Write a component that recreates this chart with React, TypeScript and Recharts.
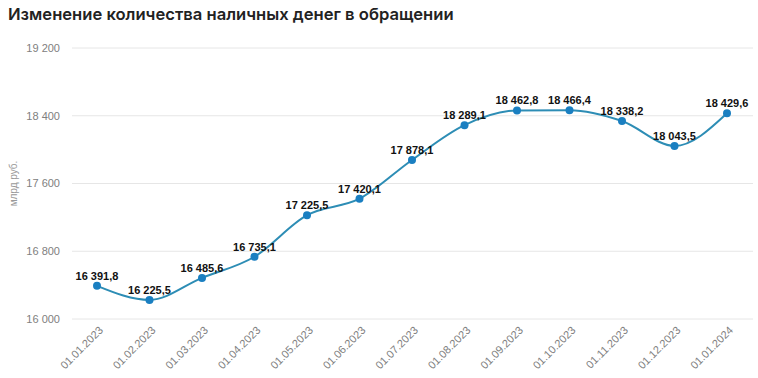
import React from "react";
import { LineChart, Line, XAxis, YAxis, CartesianGrid, LabelList } from "recharts";

const categories = ["01.01.2023","01.02.2023","01.03.2023","01.04.2023","01.05.2023","01.06.2023","01.07.2023","01.08.2023","01.09.2023","01.10.2023","01.11.2023","01.12.2023","01.01.2024"];
const values = [16391.8,16225.5,16485.6,16735.1,17225.5,17420.1,17878.1,18289.1,18462.8,18466.4,18338.2,18043.5,18429.6];
const yTicks = [16000,16800,17600,18400,19200];

const data = categories.map((c, i) => ({ date: c, value: values[i] }));

const fmtInt = (v: number) => String(v).replace(/\B(?=(\d{3})+(?!\d))/g, " ");
const fmtDec = (v: number) => {
  const [i, d] = v.toFixed(1).split(".");
  return fmtInt(Number(i)) + "," + d;
};

const XTick = (props: any) => {
  const { x, y, payload } = props;
  return (
    <g transform={`translate(${x + 4},${y + 1})`}>
      <text x={0} y={0} dy={4} textAnchor="end" transform="rotate(-45)" fill="#808080" fontSize={11} fontFamily="Liberation Sans, Arial, sans-serif">
        {payload.value}
      </text>
    </g>
  );
};

export default function App() {
  return (
    <div style={{ position: "absolute", left: 0, top: 0, width: 758, height: 378, background: "#fff", fontFamily: "Liberation Sans, Arial, sans-serif" }}>
      <div style={{ position: "absolute", left: 8, top: 4, fontFamily: "Inter, sans-serif", fontWeight: 600, fontSize: 16.6, color: "#222", whiteSpace: "nowrap" }}>
        Изменение количества наличных денег в обращении
      </div>
      <div style={{ position: "absolute", left: 0, top: 0 }}>
        <LineChart width={758} height={378} data={data} margin={{ top: 48, right: 5, bottom: 0, left: 0 }}>
          <CartesianGrid vertical={false} stroke="#e6e6e6" />
          <XAxis dataKey="date" axisLine={false} tickLine={false} interval={0} padding={{ left: 25, right: 26 }} tick={<XTick />} height={59} />
          <YAxis
            domain={[16000, 19200]}
            ticks={yTicks}
            axisLine={false}
            tickLine={false}
            tickSize={0}
            tickMargin={12}
            width={72}
            tickFormatter={fmtInt}
            tick={{ fill: "#808080", fontSize: 11 }}
            label={{ value: "млрд руб.", angle: -90, position: "insideLeft", offset: 13, style: { textAnchor: "middle", fill: "#999", fontSize: 10 } }}
          />
          <Line
            type="monotone"
            dataKey="value"
            stroke="#2d8db5"
            strokeWidth={2}
            dot={{ r: 4, fill: "#1a7fc1", stroke: "#1a7fc1", strokeWidth: 0 }}
            activeDot={false}
            isAnimationActive={false}
          >
            <LabelList dataKey="value" position="top" offset={6} formatter={(v: any) => fmtDec(Number(v))} style={{ fill: "#111", fontSize: 11, fontWeight: 700 }} />
          </Line>
        </LineChart>
      </div>
    </div>
  );
}
